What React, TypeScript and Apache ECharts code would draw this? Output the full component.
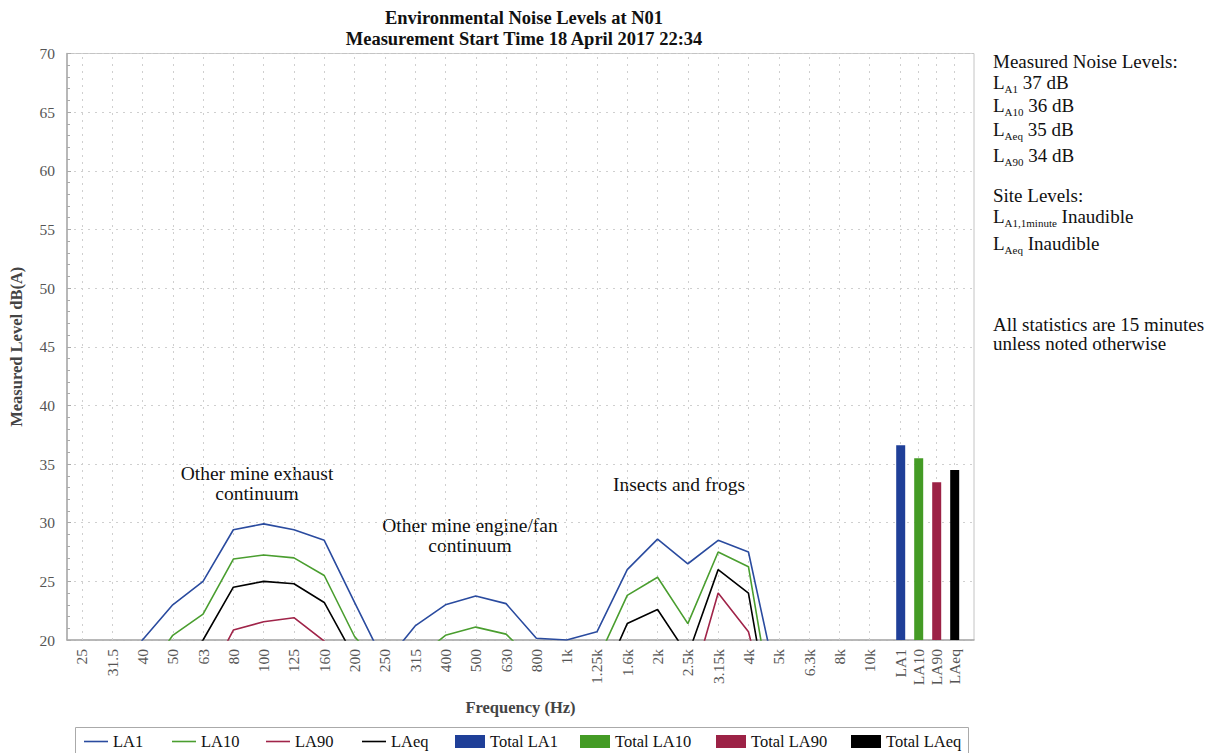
import React, { useEffect, useRef } from "react";
import * as echarts from "echarts";

const freqs = ["25","31.5","40","50","63","80","100","125","160","200","250","315","400","500","630","800","1k","1.25k","1.6k","2k","2.5k","3.15k","4k","5k","6.3k","8k","10k"];
const la1 = [15, 16, 20.0, 23.0, 25.0, 29.4, 29.9, 29.4, 28.5, 23.2, 18, 21.2, 23.0, 23.75, 23.1, 20.15, 20.0, 20.7, 26.0, 28.6, 26.5, 28.5, 27.5, 15.6, 14, 13, 12];
const la10 = [12, 13, 16.7, 20.4, 22.2, 26.9, 27.25, 27.0, 25.5, 20.3, 17.3, 18.3, 20.4, 21.1, 20.5, 18, 15, 18.2, 23.8, 25.35, 21.4, 27.5, 26.25, 11, 10, 9, 8];
const la90 = [8, 8, 9, 10, 15.9, 20.85, 21.56, 21.9, 19.9, 15, 12, 10, 10, 10, 10, 10, 10, 10, 12, 13, 15, 24.0, 20.7, 10.7, 6, 5, 5];
const laeq = [10, 11, 14, 17, 20.0, 24.5, 25.0, 24.8, 23.2, 18.5, 15, 13, 14, 15, 14, 13, 13, 15.6, 21.4, 22.6, 18.7, 26.0, 24.0, 9.2, 8, 7, 6];
const totalCats = ["LA1", "LA10", "LA90", "LAeq"];
const totalVals = [36.6, 35.5, 33.45, 34.5];
const yTicks = [20, 25, 30, 35, 40, 45, 50, 55, 60, 65, 70];

const lineNames = ["LA1", "LA10", "LA90", "LAeq"];
const totalNames = ["Total LA1", "Total LA10", "Total LA90", "Total LAeq"];
const lineLegendX = [79, 167, 261, 357];
const totalLegendX = [450, 575, 711, 846];

const FONT = "Liberation Serif";
const C_BLUE = "#2a4b9f", C_GREEN = "#4a9e2f", C_RED = "#a02449", C_BLACK = "#000000";
const B_BLUE = "#1f3f98", B_GREEN = "#449b25", B_RED = "#9c2246", B_BLACK = "#000000";

const GL = 66.7, GT = 53.5, GH = 586.5, GW = 907.3;
const FW = 818.1, TL = 891.7, TW = 72;

function sideLine(y: number, main: string, sub?: string, rest?: string) {
  const text = sub ? `{m|${main}}{s|${sub}}{m|${rest}}` : `{m|${main}}`;
  return {
    type: "text",
    x: 993,
    y,
    silent: true,
    style: {
      text,
      rich: {
        m: { fontFamily: FONT, fontSize: 19, fill: "#111", lineHeight: 24, verticalAlign: "middle" },
        s: { fontFamily: FONT, fontSize: 11, fill: "#111", lineHeight: 13, verticalAlign: "bottom" },
      },
    },
  };
}

function note(x: number, y: number, text: string) {
  return {
    type: "text",
    x,
    y,
    silent: true,
    style: { text, align: "center", verticalAlign: "top", fontFamily: FONT, fontSize: 19.5, lineHeight: 20, fill: "#111" },
  };
}

export default function App() {
  const ref = useRef<HTMLDivElement>(null);
  useEffect(() => {
    if (!ref.current) return;
    const chart = echarts.init(ref.current, null, { renderer: "svg" });
    const lineSeries = (name: string, data: number[], color: string, withGrid = false) => ({
      name,
      type: "line",
      xAxisIndex: 1,
      yAxisIndex: 1,
      data,
      symbol: "none",
      showSymbol: false,
      clip: true,
      lineStyle: { color, width: 1.6 },
      itemStyle: { color },
      z: 3,
      ...(withGrid
        ? {
            markLine: {
              silent: true,
              symbol: ["none", "none"],
              label: { show: false },
              lineStyle: { color: "#cfcfcf", type: [2, 5], width: 1 },
              data: freqs.map((f) => ({ xAxis: f })),
              z: 1,
            },
          }
        : {}),
    });
    const totalColors = [B_BLUE, B_GREEN, B_RED, B_BLACK];
    const barSeries = totalNames.map((name, i) => ({
      name,
      type: "bar",
      xAxisIndex: 2,
      yAxisIndex: 2,
      barWidth: 9,
      barGap: "-100%",
      data: totalCats.map((c, j) => (j === i ? totalVals[i] : "-")),
      itemStyle: { color: totalColors[i] },
      z: 3,
      ...(i === 0
        ? {
            markLine: {
              silent: true,
              symbol: ["none", "none"],
              label: { show: false },
              lineStyle: { color: "#cfcfcf", type: [2, 5], width: 1 },
              data: totalCats.map((c) => ({ xAxis: c })),
              z: 1,
            },
          }
        : {}),
    }));
    const lineIcon = "path://M0,0 L24,0 L24,1.6 L0,1.6 Z";
    const legends = [
      ...lineNames.map((n, i) => ({
        left: lineLegendX[i],
        top: 728,
        itemWidth: 24,
        itemHeight: 12,
        itemGap: 7,
        data: [{ name: n, icon: lineIcon }],
        textStyle: { fontFamily: FONT, fontSize: 16.5, color: "#111" },
        selectedMode: false,
      })),
      ...totalNames.map((n, i) => ({
        left: totalLegendX[i],
        top: 728,
        itemWidth: 30,
        itemHeight: 13,
        icon: "rect",
        data: [n],
        textStyle: { fontFamily: FONT, fontSize: 16.5, color: "#111" },
        selectedMode: false,
      })),
    ];
    const option: any = {
      animation: false,
      backgroundColor: "#ffffff",
      title: {
        text: "Environmental Noise Levels at N01\nMeasurement Start Time 18 April 2017 22:34",
        left: 519,
        top: 2,
        textAlign: "center",
        textStyle: { fontFamily: FONT, fontSize: 18.5, fontWeight: "bold", color: "#111", lineHeight: 21 },
      },
      grid: [
        { left: GL, top: GT, width: GW, height: GH, show: true, borderColor: "#c4c4c4", borderWidth: 1, backgroundColor: "transparent" },
        { left: GL, top: GT, width: FW, height: GH },
        { left: TL, top: GT, width: TW, height: GH },
      ],
      xAxis: [
        {
          gridIndex: 0,
          type: "value",
          min: 0,
          max: 1,
          axisLine: { show: true, lineStyle: { color: "#aaaaaa", width: 1.5 } },
          axisTick: { show: false },
          axisLabel: { show: false },
          splitLine: { show: false },
          name: "Frequency (Hz)",
          nameLocation: "middle",
          nameGap: 59,
          nameTextStyle: { fontFamily: FONT, fontSize: 16.5, fontWeight: "bold", color: "#444" },
        },
        {
          gridIndex: 1,
          type: "category",
          data: freqs,
          boundaryGap: true,
          axisLine: { show: false },
          axisTick: { show: false },
          splitLine: { show: false },
          axisLabel: { rotate: 90, interval: 0, fontFamily: FONT, fontSize: 15.5, color: "#555", margin: 9 },
        },
        {
          gridIndex: 2,
          type: "category",
          data: totalCats,
          boundaryGap: true,
          axisLine: { show: false },
          axisTick: { show: false },
          splitLine: { show: false },
          axisLabel: { rotate: 90, interval: 0, fontFamily: FONT, fontSize: 15.5, color: "#555", margin: 9 },
        },
      ],
      yAxis: [
        {
          gridIndex: 0,
          type: "value",
          min: yTicks[0],
          max: yTicks[yTicks.length - 1],
          interval: 5,
          axisLine: { show: true, lineStyle: { color: "#aaaaaa", width: 1.5 } },
          axisTick: { show: true, inside: true, length: 4, lineStyle: { color: "#aaaaaa" } },
          minorTick: { show: true, splitNumber: 5, length: 3, lineStyle: { color: "#aaaaaa" } },
          axisLabel: { fontFamily: FONT, fontSize: 15.5, color: "#555", margin: 12 },
          splitLine: { show: true, lineStyle: { color: "#cfcfcf", type: [2, 5], width: 1 } },
          name: "Measured Level dB(A)",
          nameLocation: "middle",
          nameGap: 42,
          nameTextStyle: { fontFamily: FONT, fontSize: 16.5, fontWeight: "bold", color: "#444" },
        },
        { gridIndex: 1, type: "value", min: 20, max: 70, show: false, splitLine: { show: false } },
        { gridIndex: 2, type: "value", min: 20, max: 70, show: false, splitLine: { show: false } },
      ],
      legend: legends,
      graphic: [
        {
          type: "rect",
          silent: true,
          shape: { x: 75.5, y: 727.5, width: 893, height: 40 },
          style: { fill: "none", stroke: "#aaaaaa", lineWidth: 1 },
        },
        note(257, 463, "Other mine exhaust\ncontinuum"),
        note(470, 515, "Other mine engine/fan\ncontinuum"),
        note(679, 474, "Insects and frogs"),
        sideLine(49, "Measured Noise Levels:"),
        sideLine(70, "L", "A1", " 37 dB"),
        sideLine(93, "L", "A10", " 36 dB"),
        sideLine(117, "L", "Aeq", " 35 dB"),
        sideLine(143, "L", "A90", " 34 dB"),
        sideLine(183, "Site Levels:"),
        sideLine(204, "L", "A1,1minute", " Inaudible"),
        sideLine(231, "L", "Aeq", " Inaudible"),
        sideLine(312, "All statistics are 15 minutes"),
        sideLine(331, "unless noted otherwise"),
      ],
      series: [
        lineSeries("LA1", la1, C_BLUE, true),
        lineSeries("LA10", la10, C_GREEN),
        lineSeries("LA90", la90, C_RED),
        lineSeries("LAeq", laeq, C_BLACK),
        ...barSeries,
      ],
    };
    chart.setOption(option);
    return () => chart.dispose();
  }, []);
  return <div ref={ref} style={{ position: "fixed", left: 0, top: 0, width: 1218, height: 753 }} />;
}
